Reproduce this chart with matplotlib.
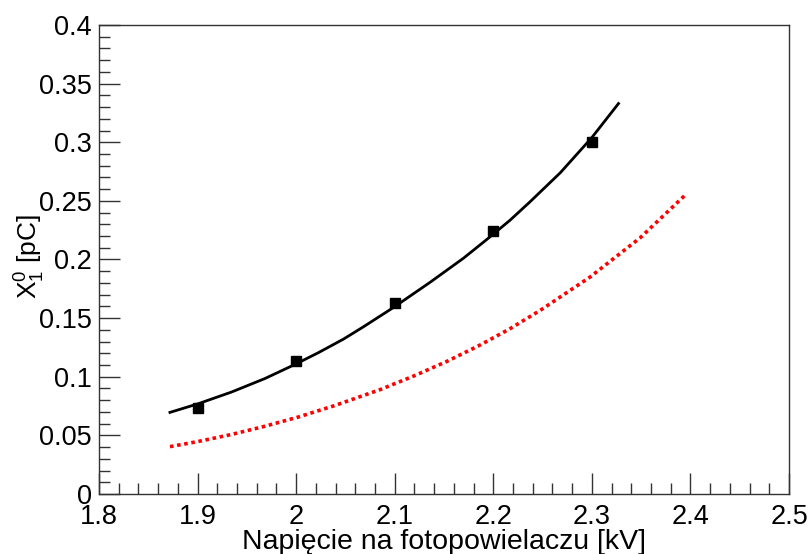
import matplotlib
matplotlib.use('Agg')
import matplotlib.pyplot as plt
from matplotlib.ticker import MultipleLocator

plt.rcParams['font.family'] = ['Liberation Sans', 'DejaVu Sans']
plt.rcParams['mathtext.fontset'] = 'custom'
plt.rcParams['mathtext.rm'] = 'Liberation Sans'
plt.rcParams['mathtext.it'] = 'Liberation Sans:italic'

# measured points (voltage [kV], X1^0 [pC])
voltage = [1.9, 2.0, 2.1, 2.2, 2.3]
charge = [0.0736, 0.1134, 0.1632, 0.2240, 0.3003]

# fitted curve
fit_x = [1.872, 1.9007, 1.9346, 1.9684, 1.9988, 2.0225, 2.0478, 2.0681, 2.0986,
         2.1358, 2.1696, 2.1933, 2.217, 2.237, 2.268, 2.3, 2.327]
fit_y = [0.0696, 0.0770, 0.0870, 0.0985, 0.1105, 0.1205, 0.1320, 0.1425, 0.1590,
         0.1805, 0.2010, 0.2170, 0.2335, 0.2490, 0.2740, 0.3040, 0.3330]

# red dotted curve
red_x = [1.872, 1.9007, 1.9346, 1.9684, 2.002, 2.0394, 2.0851, 2.1189, 2.1527,
         2.1865, 2.217, 2.2474, 2.2981, 2.349, 2.396]
red_y = [0.0404, 0.0448, 0.0508, 0.0578, 0.0656, 0.0755, 0.0890, 0.1005, 0.1130,
         0.1270, 0.1410, 0.1565, 0.1850, 0.2185, 0.2560]

fig = plt.figure(figsize=(8.1, 5.54), dpi=100)
ax = fig.add_axes([0.1222, 0.1083, 0.8519, 0.8466])

ax.plot(red_x, red_y, color='red', linestyle=(0, (1, 1)), linewidth=2.6)
ax.plot(fit_x, fit_y, color='black', linewidth=2)
ax.plot(voltage, charge, 's', color='black', markersize=7.5)

ax.set_xlim(1.8, 2.5)
ax.set_ylim(0, 0.4)
ax.xaxis.set_major_locator(MultipleLocator(0.1))
ax.xaxis.set_minor_locator(MultipleLocator(0.02))
ax.yaxis.set_major_locator(MultipleLocator(0.05))
ax.yaxis.set_minor_locator(MultipleLocator(0.01))
ax.set_xticklabels([f'{v:g}' for v in ax.get_xticks()])
ax.set_yticklabels([f'{v:g}' for v in ax.get_yticks()])

ax.tick_params(which='both', direction='in', top=False, right=False,
               labelsize=19.5, color='#333333')
ax.tick_params(which='major', length=15, width=1)
ax.tick_params(which='minor', length=8, width=1)
ax.tick_params(axis='x', pad=7)
ax.tick_params(axis='y', pad=5)
for s in ax.spines.values():
    s.set_linewidth(1)
    s.set_color('#333333')

ax.set_xlabel('Napięcie na fotopowielaczu [kV]', fontsize=20.5)
ax.set_ylabel(r'$\mathrm{X}_{1}^{0}$ [pC]', fontsize=19)
ax.xaxis.set_label_coords(0.5, -0.074)
ax.xaxis.label.set_va('top')
ax.yaxis.set_label_coords(-0.076, 0.505)

fig.savefig('out.png', dpi=100)
